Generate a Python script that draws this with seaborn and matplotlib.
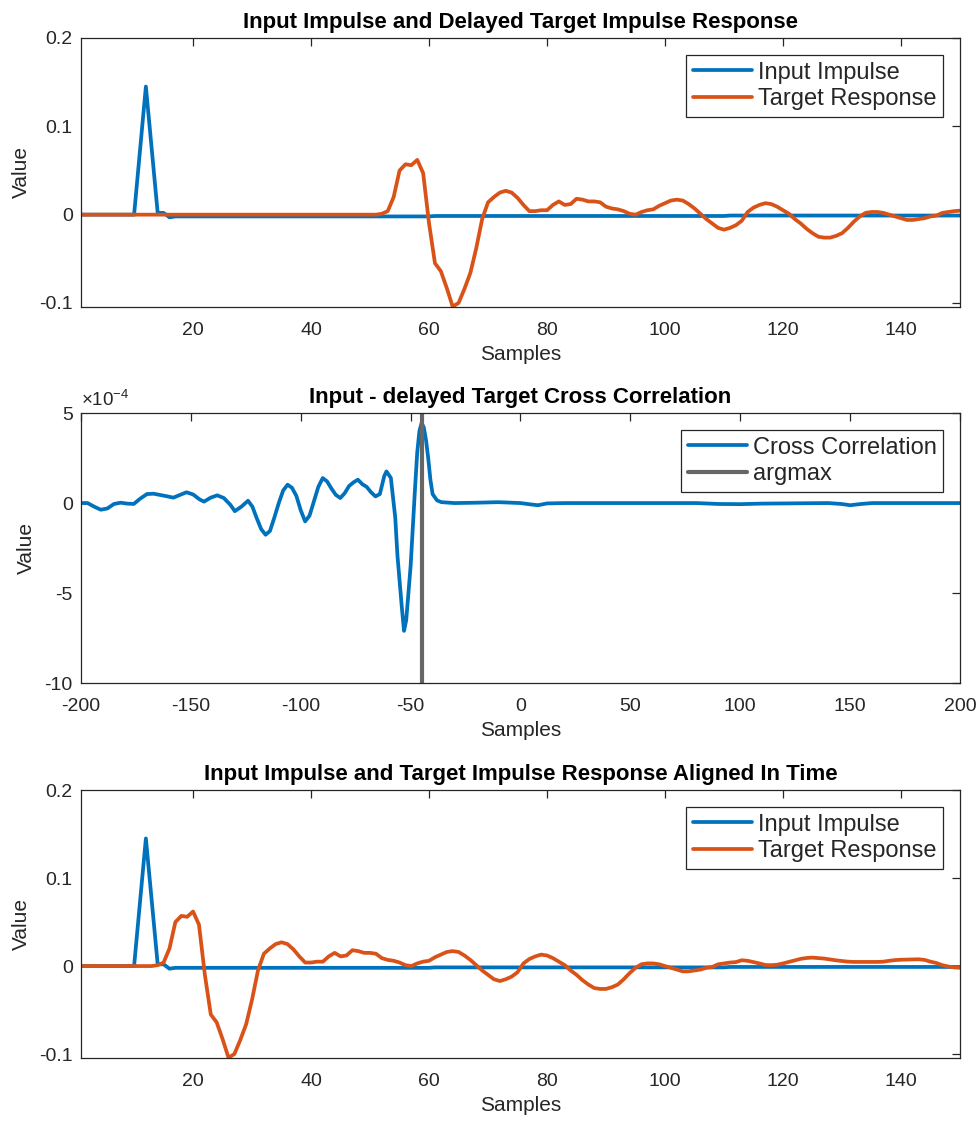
import matplotlib
matplotlib.use("Agg")
import matplotlib.pyplot as plt
import seaborn as sns
from matplotlib.ticker import FuncFormatter

# ---- data ----
samples = list(range(1, 151))

input_impulse = ([0.0] * 10 + [0.072, 0.145, 0.073, 0.002, 0.002, -0.003]
                 + [-0.002] * 44 + [-0.0015] * 50 + [-0.001] * 40)

# target response, samples 1..188 (151..188 only visible once aligned)
target_response = ([0.0] * 51 + [0.001, 0.004, 0.02, 0.050, 0.057, 0.056, 0.062,
                    0.047, -0.01, -0.055, -0.064, -0.083, -0.104, -0.100, -0.084,
                    -0.066, -0.038, -0.005, 0.014,
                    0.020, 0.025, 0.027, 0.025, 0.019, 0.011, 0.004, 0.004, 0.005, 0.005,
                    0.011, 0.015, 0.011, 0.012, 0.018, 0.017, 0.015, 0.015, 0.014, 0.009,
                    0.007, 0.006, 0.004, 0.001, 0.0, 0.003, 0.005, 0.006, 0.010, 0.013,
                    0.016, 0.017, 0.016, 0.012, 0.007, 0.001, -0.005, -0.010, -0.015, -0.017,
                    -0.015, -0.012, -0.007, 0.003, 0.008, 0.011, 0.013, 0.012, 0.009, 0.005,
                    0.001, -0.005, -0.010, -0.016, -0.021, -0.025, -0.026, -0.026, -0.024, -0.021,
                    -0.015, -0.008, -0.002, 0.002, 0.003, 0.003, 0.002, 0.0, -0.002, -0.004,
                    -0.006, -0.006, -0.005, -0.004, -0.002, -0.001, 0.002, 0.003, 0.004, 0.0045,
                    0.0066, 0.006, 0.0045, 0.003, 0.0012, 0.001, 0.0015, 0.003, 0.0047, 0.0065,
                    0.0082, 0.0092, 0.0096, 0.009, 0.0085, 0.0075, 0.0065, 0.0058, 0.005, 0.0047,
                    0.0047, 0.0047, 0.0047, 0.0047, 0.005, 0.006, 0.0068, 0.0072, 0.0074, 0.0076,
                    0.0077, 0.007, 0.005, 0.0035, 0.001, -0.0005, -0.0015, -0.002])
delay = 38

xcorr_lags = [-200, -197, -194, -191, -188, -185, -182, -179, -176, -173, -170, -167,
              -164, -161, -158, -155, -152, -149, -146, -144, -141, -138, -135, -132,
              -130, -127, -124, -122, -120, -118, -116, -114, -112, -110, -108, -106,
              -104, -102, -100, -98, -96, -94, -92, -90, -88, -86, -84, -82, -80, -78,
              -76, -74, -72, -70, -68, -66, -64, -62, -61, -59, -57, -56, -54, -53, -52,
              -50, -48, -47, -46, -45, -44, -43, -42, -41, -40, -38, -36, -30, -20, -10,
              0, 5, 8, 12, 20, 50, 80, 90, 100, 110, 140, 146, 150, 155, 160, 200]
xcorr_vals_e4 = [0.0, 0.0, -0.2, -0.37, -0.3, -0.05, 0.02, -0.03, -0.05, 0.25, 0.5, 0.52,
                 0.45, 0.38, 0.3, 0.45, 0.6, 0.48, 0.2, 0.08, 0.3, 0.43, 0.28, -0.1,
                 -0.45, -0.2, 0.13, -0.2, -0.85, -1.45, -1.76, -1.55, -0.8, 0.0, 0.7, 1.02,
                 0.85, 0.4, -0.4, -1.02, -0.7, 0.1, 0.9, 1.39, 1.2, 0.8, 0.45, 0.28, 0.55, 0.95,
                 1.15, 1.3, 1.05, 0.9, 0.6, 0.37, 0.5, 1.5, 1.76, 1.4, -0.8, -2.9, -5.8, -7.1, -6.5,
                 -3.5, 0.8, 2.8, 4.0, 4.45, 4.2, 3.5, 2.5, 1.3, 0.5, 0.15, 0.05, 0.0, 0.02, 0.05,
                 0.0, -0.08, -0.12, -0.02, 0.0, 0.0, 0.0, -0.05, -0.06, -0.03, 0.0, -0.05, -0.12, -0.05, 0.0, 0.0]
argmax_lag = -45

BLUE = "#0072BD"
ORANGE = "#D95319"
GRAY = "#666666"
DARK = "#262626"

sns.set_theme(style="white")
plt.rcParams["font.family"] = ["Liberation Sans", "DejaVu Sans"]
plt.rcParams["axes.unicode_minus"] = False
plt.rcParams["text.color"] = DARK
plt.rcParams["axes.labelcolor"] = DARK

fig = plt.figure(figsize=(9.77, 11.24), dpi=100)
positions = [
    [0.0829, 0.7269, 0.8997, 0.2393],
    [0.0829, 0.3923, 0.8997, 0.2402],
    [0.0829, 0.0587, 0.8997, 0.2384],
]
axes = [fig.add_axes(p) for p in positions]

fmt = FuncFormatter(lambda v, _: f"{v:g}")


def style(ax, title):
    for s in ax.spines.values():
        s.set_color(DARK)
        s.set_linewidth(0.9)
    ax.tick_params(direction="in", top=True, right=True, length=6, width=0.9,
                   color=DARK, labelcolor=DARK, labelsize=14)
    ax.tick_params(axis="x", pad=11)
    ax.tick_params(axis="y", pad=6)
    ax.set_title(title, fontsize=16, fontweight="bold", pad=7, color="black")
    ax.set_xlabel("Samples", fontsize=15, labelpad=4)
    ax.set_ylabel("Value", fontsize=15, labelpad=6)
    leg = ax.legend(loc="upper right", fontsize=17, frameon=True, fancybox=False,
                    edgecolor=DARK, framealpha=1, borderaxespad=0.7, borderpad=0.3,
                    labelspacing=0.2, handlelength=2.5, handletextpad=0.25)
    leg.get_frame().set_linewidth(0.9)


# Panel 1: delayed target
ax = axes[0]
sns.lineplot(x=samples, y=input_impulse, ax=ax, color=BLUE, linewidth=2.7, label="Input Impulse")
sns.lineplot(x=samples, y=target_response[:150], ax=ax, color=ORANGE, linewidth=2.7,
             label="Target Response")
ax.set_xlim(1, 150)
ax.set_ylim(-0.1045, 0.2)
ax.set_xticks([20, 40, 60, 80, 100, 120, 140])
ax.set_yticks([-0.1, 0, 0.1, 0.2])
ax.xaxis.set_major_formatter(fmt)
ax.yaxis.set_major_formatter(fmt)
style(ax, "Input Impulse and Delayed Target Impulse Response")

# Panel 2: cross correlation
ax = axes[1]
xcorr_vals = [v * 1e-4 for v in xcorr_vals_e4]
sns.lineplot(x=xcorr_lags, y=xcorr_vals, ax=ax, color=BLUE, linewidth=2.7, label="Cross Correlation")
ax.axvline(argmax_lag, color=GRAY, linewidth=3.0, label="argmax")
ax.set_xlim(-200, 200)
ax.set_ylim(-10e-4, 5e-4)
ax.set_xticks([-200, -150, -100, -50, 0, 50, 100, 150, 200])
ax.set_yticks([-10e-4, -5e-4, 0, 5e-4])
ax.xaxis.set_major_formatter(fmt)
ax.yaxis.set_major_formatter(FuncFormatter(lambda v, _: f"{round(v * 1e4):g}"))
ax.text(0.0, 1.012, r"$\mathregular{\times10^{-4}}$", transform=ax.transAxes,
        fontsize=13.5, color=DARK, ha="left", va="bottom")
style(ax, "Input - delayed Target Cross Correlation")

# Panel 3: aligned
ax = axes[2]
sns.lineplot(x=samples, y=input_impulse, ax=ax, color=BLUE, linewidth=2.7, label="Input Impulse")
sns.lineplot(x=samples, y=target_response[delay:delay + 150], ax=ax, color=ORANGE, linewidth=2.7,
             label="Target Response")
ax.set_xlim(1, 150)
ax.set_ylim(-0.1045, 0.2)
ax.set_xticks([20, 40, 60, 80, 100, 120, 140])
ax.set_yticks([-0.1, 0, 0.1, 0.2])
ax.xaxis.set_major_formatter(fmt)
ax.yaxis.set_major_formatter(fmt)
style(ax, "Input Impulse and Target Impulse Response Aligned In Time")

fig.savefig("out.png", dpi=100)
